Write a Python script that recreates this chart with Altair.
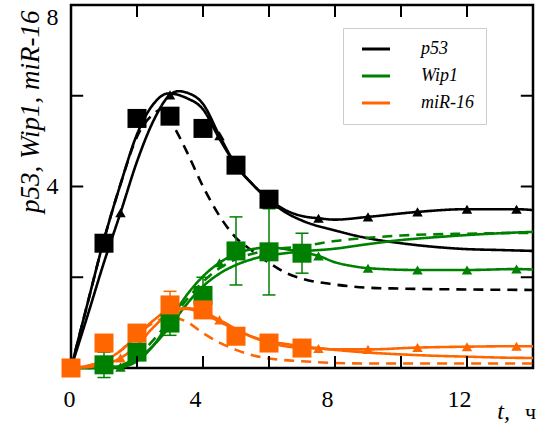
import altair as alt
import pandas as pd

genes = ["p53", "Wip1", "miR-16"]
gene_colors = ["#000000", "#008000", "#ff6600"]

# ---- model curves ----
# p53
p53_tri_t = [0, 0.5, 1, 1.5, 2, 2.5, 3, 3.25, 3.5, 4, 4.5, 5, 5.5, 6, 6.5, 7, 7.5, 8, 9, 10.5, 12, 13.5, 14]
p53_tri_v = [0, 1.15, 2.33, 3.42, 4.55, 5.45, 6.02, 6.1, 6.07, 5.82, 5.12, 4.47, 4.05, 3.72, 3.48, 3.35, 3.3, 3.27, 3.33, 3.44, 3.5, 3.5, 3.48]
p53_sol_t = [0, 0.5, 1, 1.5, 2, 2.5, 2.95, 3.5, 4, 4.5, 5, 5.5, 6, 6.5, 7, 8, 9, 10, 11, 12, 13, 14]
p53_sol_v = [0, 1.42, 2.83, 4.05, 5.15, 5.82, 6.05, 5.95, 5.7, 5.05, 4.47, 4.05, 3.7, 3.43, 3.25, 3.03, 2.86, 2.75, 2.67, 2.62, 2.6, 2.58]
p53_dash_t = [0, 0.5, 1, 1.5, 2, 2.5, 2.8, 3.1, 3.5, 4, 4.5, 5, 5.5, 6, 6.5, 7, 8, 9, 10, 12, 14]
p53_dash_v = [0, 1.42, 2.83, 4.05, 5.1, 5.6, 5.72, 5.35, 4.78, 4.0, 3.35, 2.87, 2.58, 2.32, 2.1, 1.97, 1.84, 1.77, 1.75, 1.73, 1.72]

# Wip1
wip_tri_t = [0, 1, 1.5, 2, 2.5, 3, 3.5, 4, 4.5, 5, 5.5, 6, 6.5, 7, 7.5, 8, 8.5, 9, 10.5, 12, 13.5, 14]
wip_tri_v = [0, 0, 0.02, 0.15, 0.5, 1.05, 1.6, 2.02, 2.32, 2.52, 2.62, 2.66, 2.62, 2.55, 2.47, 2.33, 2.25, 2.2, 2.16, 2.16, 2.18, 2.17]
wip_sol_t = [0, 1, 1.5, 2, 2.5, 3, 3.5, 4, 4.5, 5, 5.5, 6, 6.5, 7, 8, 9, 10, 11, 12, 13, 14]
wip_sol_v = [0, 0.01, 0.05, 0.2, 0.5, 0.92, 1.4, 1.8, 2.08, 2.27, 2.4, 2.48, 2.53, 2.57, 2.63, 2.73, 2.82, 2.88, 2.93, 2.97, 3.0]
wip_dash_t = [0, 1, 1.5, 2, 2.5, 3, 3.5, 4, 4.5, 5, 5.5, 6, 7, 8, 9, 10, 12, 14]
wip_dash_v = [0, 0.01, 0.06, 0.25, 0.62, 1.05, 1.5, 1.9, 2.2, 2.4, 2.52, 2.6, 2.68, 2.8, 2.87, 2.92, 2.96, 2.98]

# miR-16
mir_tri_t = [0, 0.5, 1, 1.5, 2, 2.5, 3, 3.5, 4, 4.5, 5, 5.5, 6, 6.5, 7, 7.5, 8, 9, 10.5, 12, 13.5, 14]
mir_tri_v = [0, 0.02, 0.08, 0.22, 0.5, 0.9, 1.22, 1.32, 1.24, 1.06, 0.86, 0.68, 0.56, 0.48, 0.44, 0.43, 0.41, 0.41, 0.45, 0.47, 0.48, 0.48]
mir_sol_t = [0, 0.5, 1, 1.5, 2, 2.5, 3, 3.5, 4, 4.5, 5, 5.5, 6, 6.5, 7, 8, 9, 10, 11, 12, 13, 14]
mir_sol_v = [0, 0.05, 0.16, 0.38, 0.72, 1.05, 1.28, 1.3, 1.2, 1.02, 0.84, 0.69, 0.59, 0.53, 0.48, 0.4, 0.34, 0.3, 0.27, 0.25, 0.23, 0.22]
mir_dash_t = [0, 0.5, 1, 1.5, 2, 2.5, 3, 3.5, 4, 4.5, 5, 5.5, 6, 7, 8, 9, 10, 12, 14]
mir_dash_v = [0, 0.05, 0.16, 0.38, 0.72, 1.0, 1.12, 1.02, 0.77, 0.56, 0.4, 0.28, 0.21, 0.15, 0.11, 0.1, 0.1, 0.1, 0.1]

# times at which triangle markers sit on the "tri" curves
tri_marks_t = [1.5, 3, 4.5, 6, 7.5, 9, 10.5, 12, 13.5]

# ---- experimental points ----
p53_exp_t = [1, 2, 3, 4, 5, 6]
p53_exp_v = [2.75, 5.5, 5.55, 5.28, 4.47, 3.72]
wip_exp_t = [1, 2, 3, 4, 5, 6, 7]
wip_exp_v = [0.07, 0.35, 0.99, 1.6, 2.58, 2.56, 2.53]
wip_exp_err = [0.28, 0.18, 0.27, 0.4, 0.75, 0.95, 0.44]
mir_exp_t = [0, 1, 2, 3, 4, 5, 6, 7]
mir_exp_v = [0, 0.55, 0.77, 1.39, 1.28, 0.7, 0.55, 0.44]
mir_exp_err = [0, 0.1, 0.15, 0.3, 0.15, 0.1, 0.08, 0.08]

# axis ticks / labels
x_tick_vals = [2, 4, 6, 8, 10, 12]
y_tick_vals = [2, 4, 6]
x_label_vals = [0, 4, 8, 12]
y_label_vals = [4, 8]

# x-axis title pieces ("t," italic, "ч" upright)
x_title_parts = ["t,", "ч"]

# ---------------- build tables ----------------
curves_spec = [
    ("p53", "p53_tri", "solid", p53_tri_t, p53_tri_v),
    ("p53", "p53_sol", "solid", p53_sol_t, p53_sol_v),
    ("p53", "p53_dash", "dashed", p53_dash_t, p53_dash_v),
    ("Wip1", "wip_tri", "solid", wip_tri_t, wip_tri_v),
    ("Wip1", "wip_sol", "solid", wip_sol_t, wip_sol_v),
    ("Wip1", "wip_dash", "dashed", wip_dash_t, wip_dash_v),
    ("miR-16", "mir_tri", "solid", mir_tri_t, mir_tri_v),
    ("miR-16", "mir_sol", "solid", mir_sol_t, mir_sol_v),
    ("miR-16", "mir_dash", "dashed", mir_dash_t, mir_dash_v),
]
rows = []
for gene, cid, style, ts, vs in curves_spec:
    for t, v in zip(ts, vs):
        rows.append({"gene": gene, "curve": cid, "style": style, "t": t, "v": v})
curves = pd.DataFrame(rows)

col_of = dict(zip(genes, gene_colors))
tri_rows = []
for gene, cid, style, ts, vs in curves_spec:
    if cid.endswith("_tri"):
        for t, v in zip(ts, vs):
            if t in tri_marks_t:
                tri_rows.append({"gene": gene, "col": col_of[gene], "t": t, "v": v})
tris = pd.DataFrame(tri_rows)

sq_rows = []
for t, v in zip(p53_exp_t, p53_exp_v):
    sq_rows.append({"gene": "p53", "col": col_of["p53"], "t": t, "v": v, "lo": v, "hi": v})
for t, v, e in zip(wip_exp_t, wip_exp_v, wip_exp_err):
    sq_rows.append({"gene": "Wip1", "col": col_of["Wip1"], "t": t, "v": v, "lo": v - e, "hi": v + e})
for t, v, e in zip(mir_exp_t, mir_exp_v, mir_exp_err):
    sq_rows.append({"gene": "miR-16", "col": col_of["miR-16"], "t": t, "v": v, "lo": v - e, "hi": v + e})
squares = pd.DataFrame(sq_rows)
errs = squares[squares["hi"] > squares["lo"]]

FONT = "Liberation Serif"

xscale = alt.Scale(domain=[0, 14], nice=False, zero=False)
yscale = alt.Scale(domain=[0, 8], nice=False, zero=False)

x_axis = alt.Axis(
    values=x_label_vals, labelPadding=19, labelFont=FONT, labelFontSize=24, labelColor="black",
    labelOffset=-8, domain=False, ticks=False, grid=False, title=None,
)
y_axis = alt.Axis(
    values=y_label_vals, labelPadding=13, labelFlush=True, labelFont=FONT, labelFontSize=24,
    labelColor="black", domain=False, ticks=False, grid=False,
    title="p53, Wip1, miR-16", titleFont=FONT, titleFontStyle="italic", titleFontWeight="normal",
    titleFontSize=27, titleColor="black", titleAngle=270, titleAlign="right", titleBaseline="alphabetic",
    titleX=-33, titleY=5,
)

lines = alt.Chart(curves).mark_line(interpolate="monotone", strokeWidth=2.6, opacity=1).encode(
    x=alt.X("t:Q", scale=xscale, axis=x_axis),
    y=alt.Y("v:Q", scale=yscale, axis=y_axis),
    color=alt.Color(
        "gene:N", scale=alt.Scale(domain=genes, range=gene_colors),
        legend=alt.Legend(
            title=None, orient="none", legendX=272, legendY=23, direction="vertical",
            symbolType="M-3,0L3,0", symbolSize=87, symbolStrokeWidth=3, symbolOpacity=1,
            symbolOffset=12,
            labelFont=FONT, labelFontStyle="italic", labelFontSize=18, labelColor="black",
            labelOffset=36, rowPadding=9, padding=12,
            strokeColor="#cccccc", fillColor="white",
            labelExpr="datum.label + '          '",
        ),
    ),
    strokeDash=alt.StrokeDash(
        "style:N", scale=alt.Scale(domain=["solid", "dashed"], range=[[1, 0], [10, 7]]), legend=None
    ),
    detail="curve:N",
)

err_rules = alt.Chart(errs).mark_rule(strokeWidth=1.5, opacity=1).encode(
    x="t:Q", y="lo:Q", y2="hi:Q", color=alt.Color("col:N", scale=None)
)
err_lo = alt.Chart(errs).mark_tick(orient="horizontal", size=13, thickness=1.5, opacity=1).encode(
    x="t:Q", y="lo:Q", color=alt.Color("col:N", scale=None)
)
err_hi = alt.Chart(errs).mark_tick(orient="horizontal", size=13, thickness=1.5, opacity=1).encode(
    x="t:Q", y="hi:Q", color=alt.Color("col:N", scale=None)
)

tri_layer = alt.Chart(tris).mark_point(shape="triangle-up", filled=True, size=110, opacity=1).encode(
    x="t:Q", y="v:Q", color=alt.Color("col:N", scale=None)
)
sq_layer = alt.Chart(squares).mark_square(size=361, opacity=1).encode(
    x="t:Q", y="v:Q", color=alt.Color("col:N", scale=None)
)

# inward frame ticks
xt = pd.DataFrame({"t": x_tick_vals})
yt = pd.DataFrame({"v": y_tick_vals})
tick_len_y = 0.265
tick_len_x = 0.37
xt_bottom = alt.Chart(xt).mark_rule(color="black", strokeWidth=2).encode(
    x="t:Q", y=alt.datum(0), y2=alt.datum(tick_len_y))
xt_top = alt.Chart(xt).mark_rule(color="black", strokeWidth=2).encode(
    x="t:Q", y=alt.datum(8), y2=alt.datum(8 - tick_len_y))
yt_left = alt.Chart(yt).mark_rule(color="black", strokeWidth=2).encode(
    y="v:Q", x=alt.datum(0), x2=alt.datum(tick_len_x))
yt_right = alt.Chart(yt).mark_rule(color="black", strokeWidth=2).encode(
    y="v:Q", x=alt.datum(14), x2=alt.datum(14 - tick_len_x))

# x-axis title as text marks (italic "t," and upright "ч")
xt_t = alt.Chart(pd.DataFrame({"s": [x_title_parts[0]]})).mark_text(
    font=FONT, fontSize=24, fontStyle="italic", align="right", baseline="alphabetic", color="black"
).encode(x=alt.value(439), y=alt.value(414), text="s:N")
xt_u = alt.Chart(pd.DataFrame({"s": [x_title_parts[1]]})).mark_text(
    font=FONT, fontSize=22, align="right", baseline="alphabetic", color="black"
).encode(x=alt.value(465), y=alt.value(414), text="s:N")

chart = alt.layer(
    lines, err_rules, err_lo, err_hi, tri_layer, sq_layer,
    xt_bottom, xt_top, yt_left, yt_right, xt_t, xt_u,
).properties(
    width=462, height=363,
    autosize=alt.AutoSizeParams(type="none"),
    padding={"left": 71, "top": 5, "right": 5, "bottom": 59},
).configure_view(
    stroke="black", strokeWidth=2.5
)

chart.save("out.html", embed_options={"renderer": "svg", "actions": False})
